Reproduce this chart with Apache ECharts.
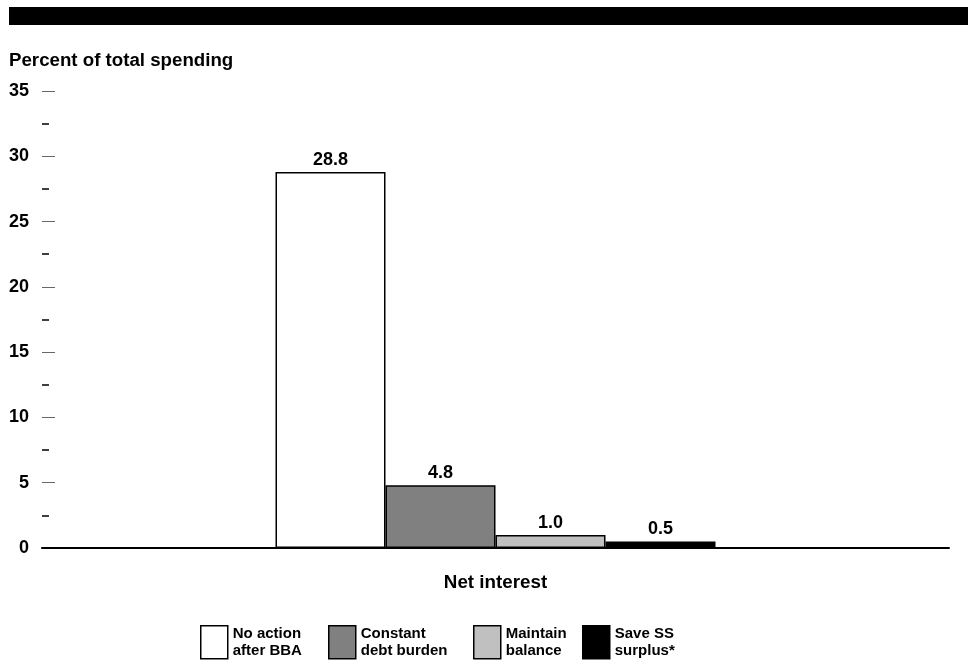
<!DOCTYPE html>
<html>
<head>
<meta charset="utf-8">
<script src="https://cdn.jsdelivr.net/npm/echarts@6/dist/echarts.min.js"></script>
<style>
html,body{margin:0;padding:0;background:#fff;}
#chart{width:975px;height:665px;}
</style>
</head>
<body>
<div id="chart"></div>
<script>
const categories = ['Net interest'];
const seriesNames = ['No action after BBA', 'Constant debt burden', 'Maintain balance', 'Save SS surplus*'];
const legendLabels = ['No action\nafter BBA', 'Constant\ndebt burden', 'Maintain\nbalance', 'Save SS\nsurplus*'];
const noAction = [28.8];
const constantDebt = [4.8];
const maintainBalance = [1.0];
const saveSSSurplus = [0.5];
const yAxisTitle = 'Percent of total spending';
const yMin = 0, yMax = 35, yInterval = 5;

const FONT = "'Liberation Sans', Arial, Helvetica, sans-serif";
const colors = ['#ffffff', '#808080', '#c0c0c0', '#000000'];
const values = [noAction, constantDebt, maintainBalance, saveSSSurplus];
const legendLefts = [200, 328, 473, 582];

const chart = echarts.init(document.getElementById('chart'), null, {renderer: 'canvas'});

const series = seriesNames.map((name, i) => ({
  name: name,
  type: 'bar',
  data: values[i],
  barWidth: 110,
  barGap: '0%',
  itemStyle: {color: colors[i], borderColor: '#000', borderWidth: 1.5},
  label: {
    show: true,
    position: 'top',
    distance: 3,
    color: '#000',
    fontFamily: FONT,
    fontWeight: 'bold',
    fontSize: 18,
    formatter: p => Number(p.value).toFixed(1)
  },
  emphasis: {disabled: true},
  animation: false
}));

const legends = seriesNames.map((name, i) => ({
  data: [name],
  left: legendLefts[i],
  top: 625,
  padding: 0,
  orient: 'horizontal',
  itemWidth: 27,
  itemHeight: 33,
  itemGap: 0,
  selectedMode: false,
  icon: 'rect',
  itemStyle: {borderColor: '#000', borderWidth: 1.5},
  formatter: () => legendLabels[i],
  textStyle: {fontFamily: FONT, fontWeight: 'bold', fontSize: 15, lineHeight: 16.5, color: '#000'}
}));

chart.setOption({
  animation: false,
  backgroundColor: '#fff',
  title: {
    text: yAxisTitle,
    left: 9,
    top: 51,
    padding: 0,
    textStyle: {fontFamily: FONT, fontWeight: 'bold', fontSize: 18.7, color: '#000'}
  },
  graphic: [{
    type: 'rect',
    shape: {x: 9, y: 7, width: 959, height: 18},
    style: {fill: '#000'},
    silent: true
  }],
  legend: legends,
  grid: {left: 42, right: 26, top: 91, bottom: 117, containLabel: false},
  xAxis: {
    type: 'category',
    data: categories,
    z: 5,
    axisLine: {show: true, lineStyle: {color: '#000', width: 2}},
    axisTick: {show: false},
    axisLabel: {margin: 25, color: '#000', fontFamily: FONT, fontWeight: 'bold', fontSize: 18.8}
  },
  yAxis: {
    type: 'value',
    min: yMin,
    max: yMax,
    interval: yInterval,
    axisLine: {show: false},
    axisTick: {show: true, inside: true, length: 13, lineStyle: {color: '#666', width: 1}},
    minorTick: {show: true, splitNumber: 2, length: 7, lineStyle: {color: '#000', width: 1.5}},
    splitLine: {show: false},
    minorSplitLine: {show: false},
    axisLabel: {margin: 13, color: '#000', fontFamily: FONT, fontWeight: 'bold', fontSize: 18}
  },
  series: series
});
</script>
</body>
</html>
